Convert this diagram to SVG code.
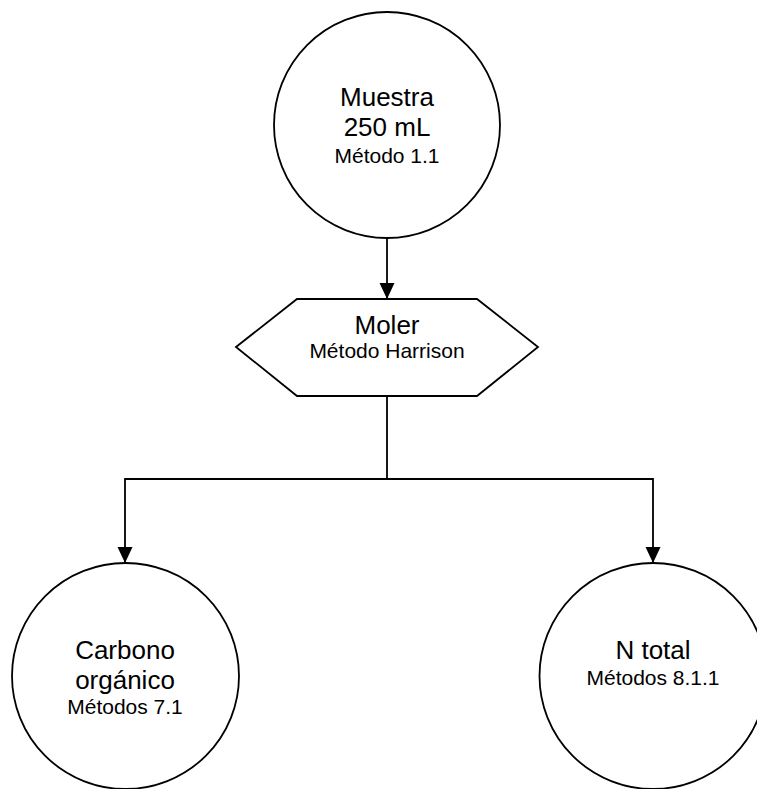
<svg xmlns="http://www.w3.org/2000/svg" width="757" height="789" viewBox="0 0 757 789">
<style>
.shape{fill:#fff;stroke:#000;stroke-width:1.8}
.conn{fill:none;stroke:#000;stroke-width:1.8}
text{font-family:"Liberation Sans",Arial,sans-serif;fill:#000;text-anchor:middle}
.big{font-size:26px}
.small{font-size:21px}
</style>
<defs>
<marker id="arr" viewBox="0 0 16 16" refX="16" refY="8" markerWidth="16" markerHeight="16" markerUnits="userSpaceOnUse" orient="auto">
<path d="M0,0.5 L16,8 L0,15.5 Z" fill="#000"/>
</marker>
</defs>
<rect width="757" height="789" fill="#fff"/>
<g id="connectors">
<path class="conn" d="M387,238 V299" marker-end="url(#arr)"/>
<path class="conn" d="M387,396 V479 H125 V563" marker-end="url(#arr)"/>
<path class="conn" d="M387,479 H653 V563" marker-end="url(#arr)"/>
</g>
<g id="muestra">
<ellipse class="shape" cx="387" cy="125" rx="113" ry="113"/>
<text class="big" x="387" y="106">Muestra</text>
<text class="big" x="387" y="136">250 mL</text>
<text class="small" x="387" y="163">Método 1.1</text>
</g>
<g id="moler">
<polygon class="shape" points="236,347 297,299 477,299 538,347 477,396 297,396"/>
<text class="big" x="387" y="334">Moler</text>
<text class="small" x="387" y="358">Método Harrison</text>
</g>
<g id="carbono">
<ellipse class="shape" cx="125.5" cy="676" rx="113.5" ry="113"/>
<text class="big" x="125" y="659">Carbono</text>
<text class="big" x="125" y="689">orgánico</text>
<text class="small" x="125" y="714">Métodos 7.1</text>
</g>
<g id="ntotal">
<ellipse class="shape" cx="653" cy="676" rx="113.5" ry="113"/>
<text class="big" x="653" y="659">N total</text>
<text class="small" x="653" y="685">Métodos 8.1.1</text>
</g>
</svg>
